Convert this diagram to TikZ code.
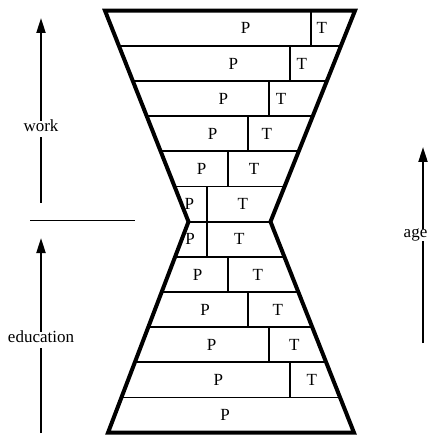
\documentclass[tikz,border=0pt]{standalone}
\usepackage{fontspec}
\setmainfont{Liberation Serif}
\usetikzlibrary{arrows.meta,calc}

\begin{document}
\begin{tikzpicture}[x=1pt, y=-1pt, font=\fontsize{17}{20}\selectfont]
\tikzset{
  outline/.style={line width=4pt, line join=miter},
  rung/.style={line width=1.8pt},
  axisarrow/.style={-{Triangle[length=15pt,width=9pt]}, line width=2pt},
  axislabel/.style={fill=white, inner sep=3pt, text height=0.72em, text depth=0.22em},
  cell/.style={inner sep=0pt}
}
  \useasboundingbox (0,0) rectangle (428,435);
  \def\rowh{35.17}
  \def\ytop{10.7}

  % hourglass corners
  \coordinate (tl) at (105,10.7);
  \coordinate (tr) at (355,10.7);
  \coordinate (wl) at (188.5,221.7);
  \coordinate (wr) at (270.5,221.7);
  \coordinate (bl) at (108,432.7);
  \coordinate (br) at (354,432.7);

  % rows
  \foreach \k in {1,...,5} {
    \draw[rung] ($(tl)!\k/6!(wl)$) -- ($(tr)!\k/6!(wr)$);
    \draw[rung] ($(bl)!\k/6!(wl)$) -- ($(br)!\k/6!(wr)$);
  }
  \draw[rung] (wl) -- (wr);

  % P | T cells
  \foreach \i/\dx/\px/\tx in {1/310.7/245.7/321.7, 2/290/233.3/301.7,
      3/269.3/223.3/281, 4/248.3/212.7/266.7, 5/227.7/201.7/254,
      6/207/189.3/242.7, 7/207/190/239.3, 8/227.7/197.7/257.7,
      9/248.3/205/277.7, 10/269.3/211.7/294.3, 11/290/218.3/311.7} {
    \pgfmathsetmacro\ya{\ytop+\rowh*(\i-1)}
    \pgfmathsetmacro\yb{\ytop+\rowh*\i}
    \pgfmathsetmacro\ym{\ytop+\rowh*(\i-0.5)}
    \draw[rung] (\dx,\ya) -- (\dx,\yb);
    \node[cell] (p\i) at (\px,\ym) {P};
    \node[cell] (t\i) at (\tx,\ym) {T};
  }
  \node[cell] (p12) at (225,{\ytop+\rowh*11.5}) {P};

  \draw[outline] (tl) -- (tr) -- (wr) -- (br) -- (bl) -- (wl) -- cycle;

  % left axis
  \coordinate (workfoot) at (41,203);
  \coordinate (worktip) at (41,18);
  \coordinate (edufoot) at (41,433);
  \coordinate (edutip) at (41,238);
  \coordinate (sepl) at (30,220);
  \coordinate (sepr) at (135,220);
  \draw[axisarrow] (workfoot) -- (worktip);
  \draw[axisarrow] (edufoot) -- (edutip);
  \draw[line width=0.9pt] (sepl) -- (sepr);
  \node[axislabel] (work) at (41,129) {work};
  \node[axislabel] (edu) at (41,340) {education};

  % right axis
  \coordinate (agefoot) at (423,343);
  \coordinate (agetip) at (423,147);
  \draw[axisarrow] (agefoot) -- (agetip);
  \node[axislabel, inner sep=1pt] (age) at (415.5,235) {age};
\end{tikzpicture}
\end{document}
